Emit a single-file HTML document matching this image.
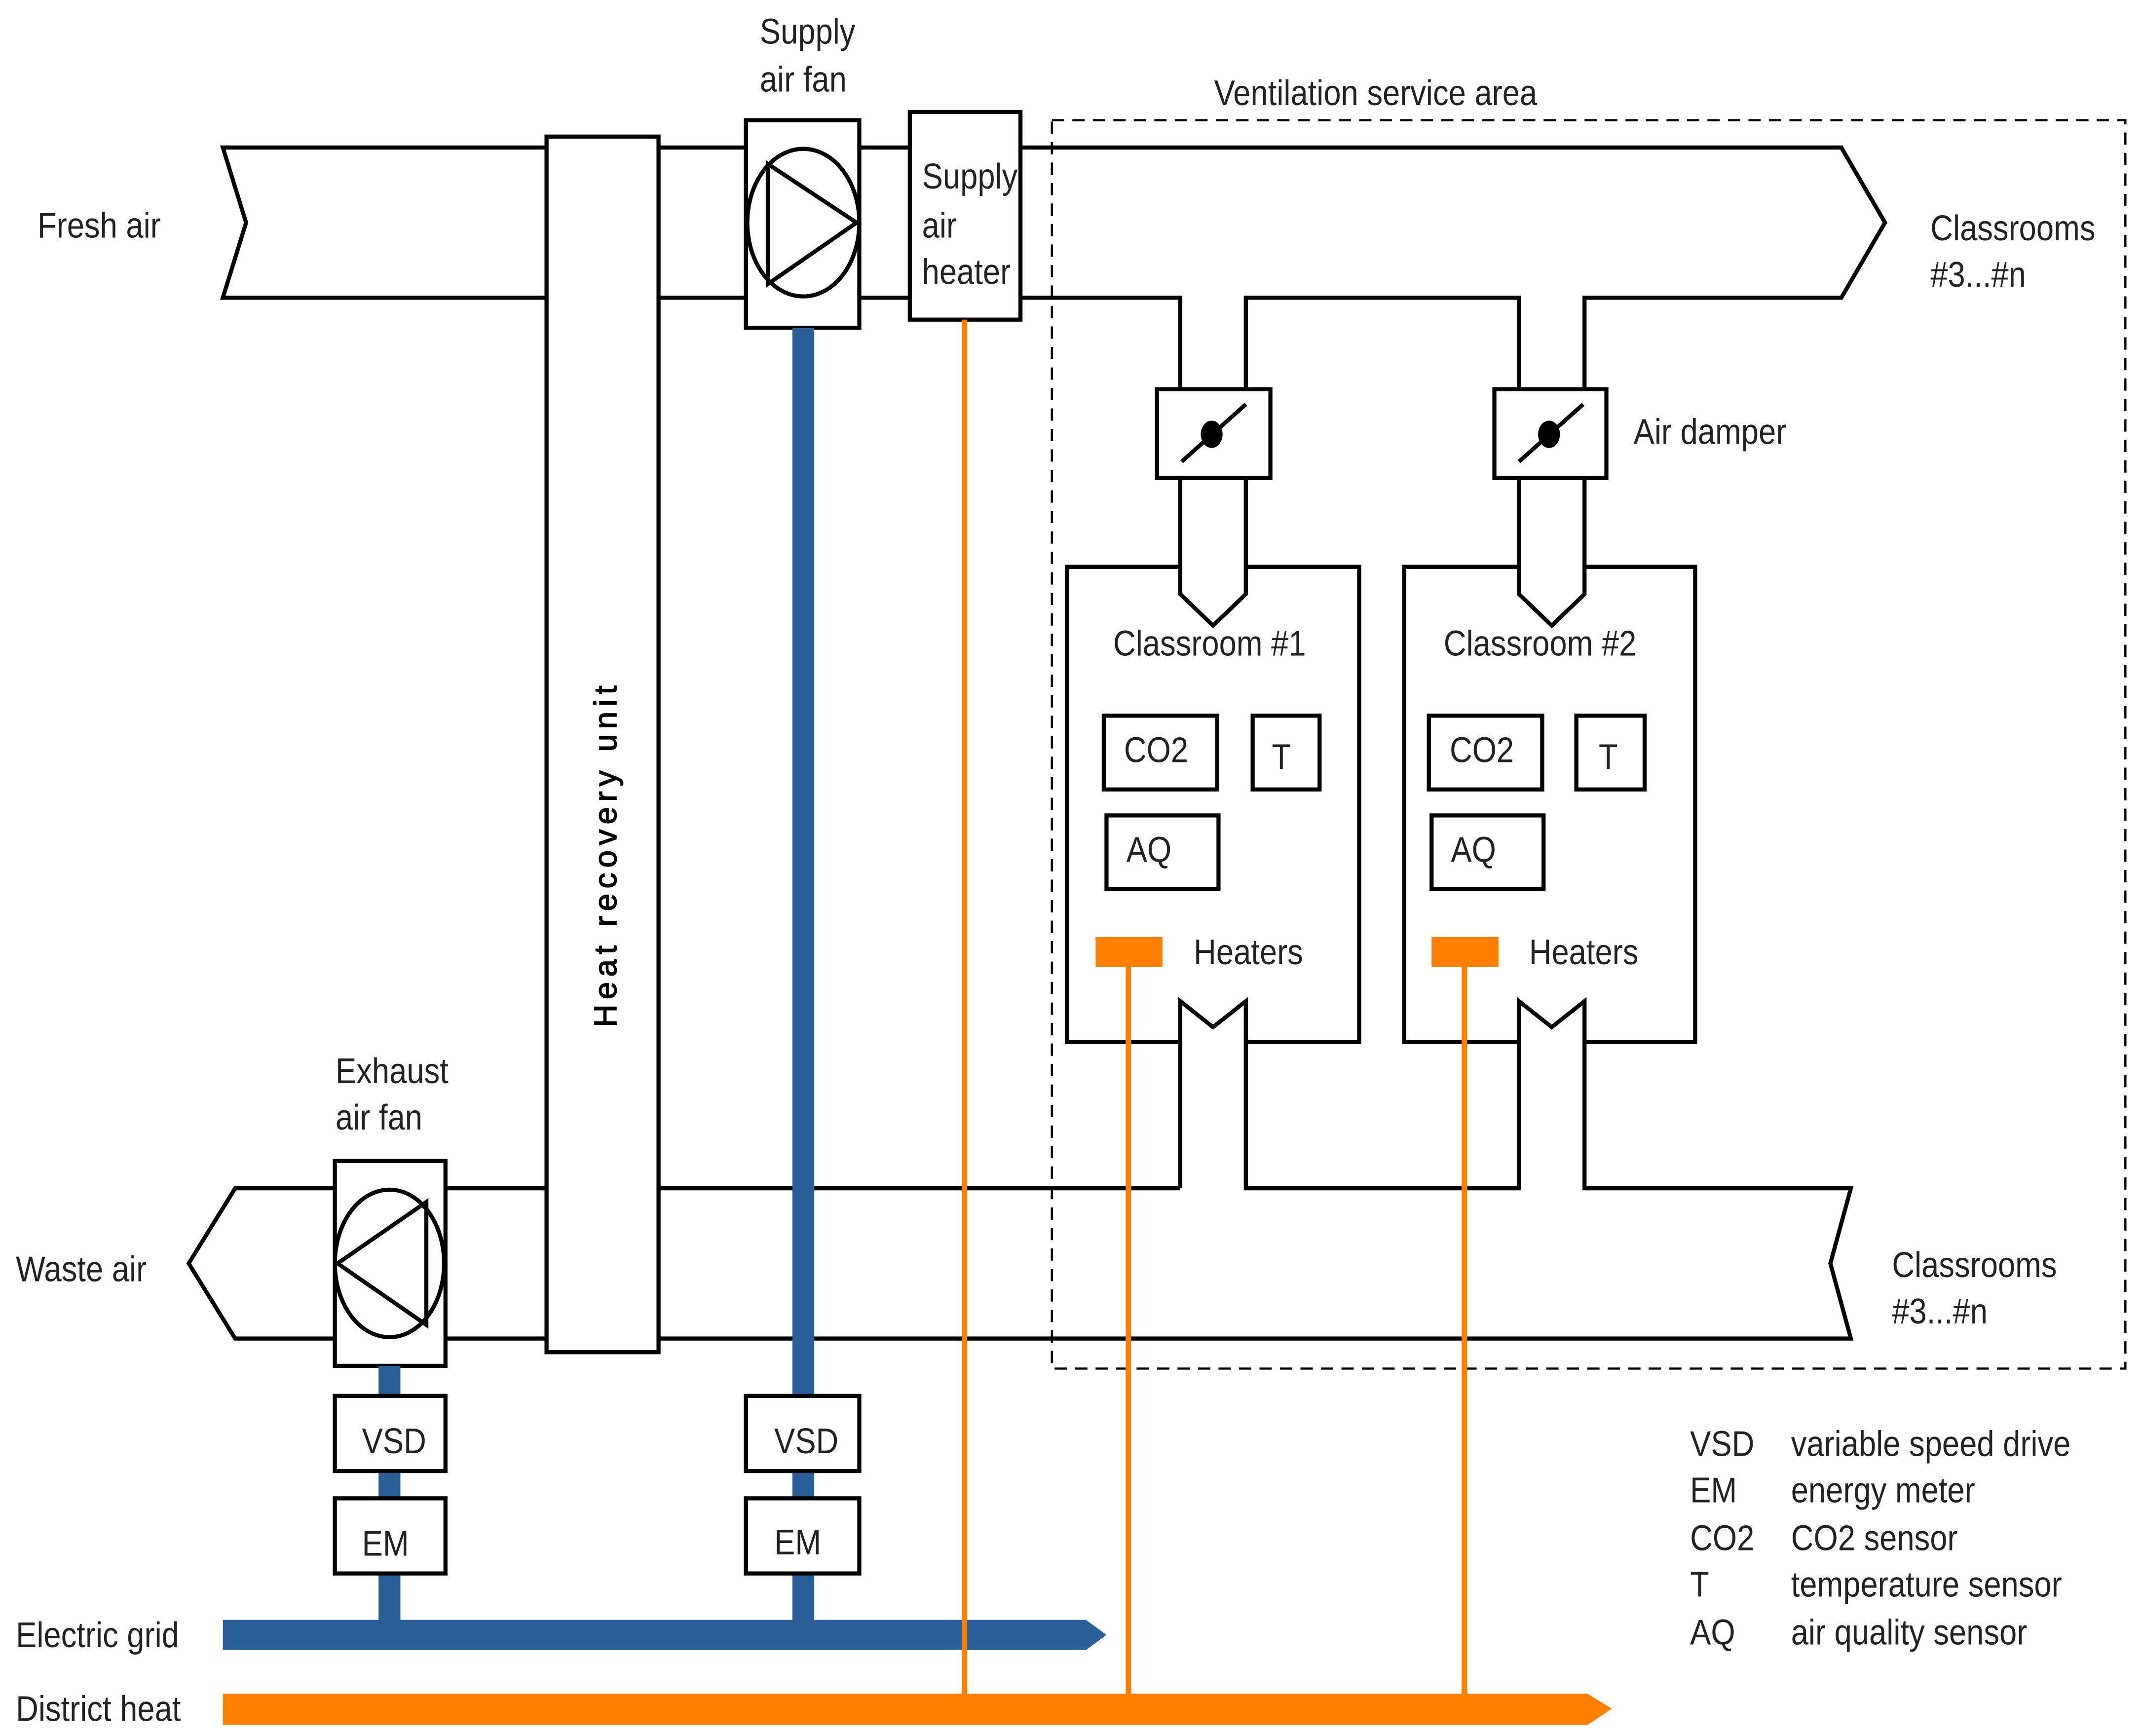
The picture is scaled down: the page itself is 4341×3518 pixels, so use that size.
<!DOCTYPE html>
<html><head><meta charset="utf-8"><style>html,body{margin:0;padding:0;background:#fff}svg{display:block}</style></head>
<body>
<svg width="4341" height="3518" viewBox="0 0 1568 1271" xmlns="http://www.w3.org/2000/svg" font-family="'Liberation Sans', sans-serif" font-size="26" fill="#222">
<g fill="none" stroke="#000" stroke-width="3" stroke-linejoin="miter">
<polyline points="400,108 163,108 180,163 163,218 400,218"/>
<line x1="482" y1="108" x2="546" y2="108"/><line x1="482" y1="218" x2="546" y2="218"/>
<line x1="629" y1="108" x2="666" y2="108"/><line x1="629" y1="218" x2="666" y2="218"/>
<polyline points="747,108 1348,108 1380,163 1348,218 1160,218 1160,285"/>
<polyline points="747,218 864,218 864,285"/>
<polyline points="912,285 912,218 1112,218 1112,285"/>
<rect x="847" y="285" width="83" height="65" fill="#fff"/>
<rect x="1094" y="285" width="82" height="65" fill="#fff"/>
<line x1="865" y1="338" x2="912" y2="296"/><line x1="1112" y1="338" x2="1159" y2="296"/>
<polyline points="864,350 864,435 888,458 912,435 912,350"/>
<polyline points="1112,350 1112,435 1136,458 1160,435 1160,350"/>
<polyline points="864,415 781,415 781,763 864,763"/>
<polyline points="912,415 995,415 995,763 912,763"/>
<polyline points="1112,415 1028,415 1028,763 1112,763"/>
<polyline points="1160,415 1241,415 1241,763 1160,763"/>
<polyline points="864,870 864,733 888,752 912,733 912,870 1112,870 1112,733 1136,752 1160,733 1160,870 1355,870 1340,925 1355,980 482,980"/>
<line x1="482" y1="870" x2="864" y2="870"/>
<polyline points="400,870 172,870 138,925 172,980 400,980"/>
<rect x="400" y="100" width="82" height="890" fill="#fff"/>
<rect x="546" y="88" width="83" height="152" fill="#fff"/>
<ellipse cx="588" cy="163" rx="41" ry="54"/>
<polygon points="562,120 627,163 562,208"/>
<rect x="666" y="82" width="81" height="152" fill="#fff"/>
<rect x="245" y="850" width="81" height="150" fill="#fff"/>
<ellipse cx="285" cy="925" rx="40" ry="54"/>
<polygon points="247,925 312,880 312,970"/>
<rect x="808" y="524" width="83" height="54"/><rect x="917" y="524" width="49" height="54"/><rect x="810" y="597" width="82" height="54"/>
<rect x="1046" y="524" width="83" height="54"/><rect x="1154" y="524" width="50" height="54"/><rect x="1048" y="597" width="82" height="54"/>
</g>
<ellipse cx="887" cy="318" rx="8" ry="10" fill="#000"/><ellipse cx="1134" cy="318" rx="8" ry="10" fill="#000"/>
<rect x="770" y="88" width="786" height="914" fill="none" stroke="#000" stroke-width="1.6" stroke-dasharray="9,6"/>
<g fill="#2a6099">
<rect x="580" y="240" width="16" height="950"/>
<rect x="277" y="1000" width="16" height="190"/>
<polygon points="163,1186 795,1186 810,1197 795,1208 163,1208"/>
<polygon points="163,1240 1162,1240 1180,1251 1162,1263 163,1263" fill="#ff8000"/>
</g>
<g fill="#ff8000">
<rect x="704" y="234" width="4" height="1010"/>
<rect x="824" y="700" width="4" height="544"/>
<rect x="1070" y="700" width="4" height="544"/>
<rect x="802" y="686" width="49" height="22"/>
<rect x="1048" y="686" width="49" height="22"/>
</g>
<g fill="#fff" stroke="#000" stroke-width="3">
<rect x="546" y="1022" width="83" height="55"/><rect x="546" y="1097" width="83" height="55"/>
<rect x="245" y="1022" width="81" height="55"/><rect x="245" y="1097" width="81" height="55"/>
</g>
<g transform="scale(0.88,1)">
<text x="31" y="174">Fresh air</text>
<text x="632" y="32">Supply</text><text x="632" y="67">air fan</text>
<text x="767" y="138">Supply</text><text x="767" y="174">air</text><text x="767" y="208">heater</text>
<text x="1010" y="77">Ventilation service area</text>
<text x="1606" y="176">Classrooms</text><text x="1606" y="210">#3...#n</text>
<text x="1359" y="325">Air damper</text>
<text x="926" y="480">Classroom #1</text><text x="1201" y="480">Classroom #2</text>
<text x="935" y="558">CO2</text><text x="1058" y="563">T</text><text x="937" y="631">AQ</text>
<text x="1206" y="558">CO2</text><text x="1330" y="563">T</text><text x="1207" y="631">AQ</text>
<text x="993" y="706">Heaters</text><text x="1272" y="706">Heaters</text>
<text x="279" y="793">Exhaust</text><text x="279" y="827">air fan</text>
<text x="13" y="938">Waste air</text>
<text x="1574" y="935">Classrooms</text><text x="1574" y="969">#3...#n</text>
<text x="301" y="1064">VSD</text><text x="644" y="1064">VSD</text>
<text x="301" y="1139">EM</text><text x="644" y="1138">EM</text>
<text x="13" y="1206">Electric grid</text>
<text x="13" y="1260">District heat</text>
<text x="1406" y="1066">VSD</text><text x="1490" y="1066">variable speed drive</text>
<text x="1406" y="1100">EM</text><text x="1490" y="1100">energy meter</text>
<text x="1406" y="1135">CO2</text><text x="1490" y="1135">CO2 sensor</text>
<text x="1406" y="1169">T</text><text x="1490" y="1169">temperature sensor</text>
<text x="1406" y="1204">AQ</text><text x="1490" y="1204">air quality sensor</text>
</g>
<text transform="translate(451,752) rotate(-90)" font-size="23" fill="#000" stroke="#000" stroke-width="0.6" textLength="250" lengthAdjust="spacing">Heat recovery unit</text>
</svg>
</body></html>
